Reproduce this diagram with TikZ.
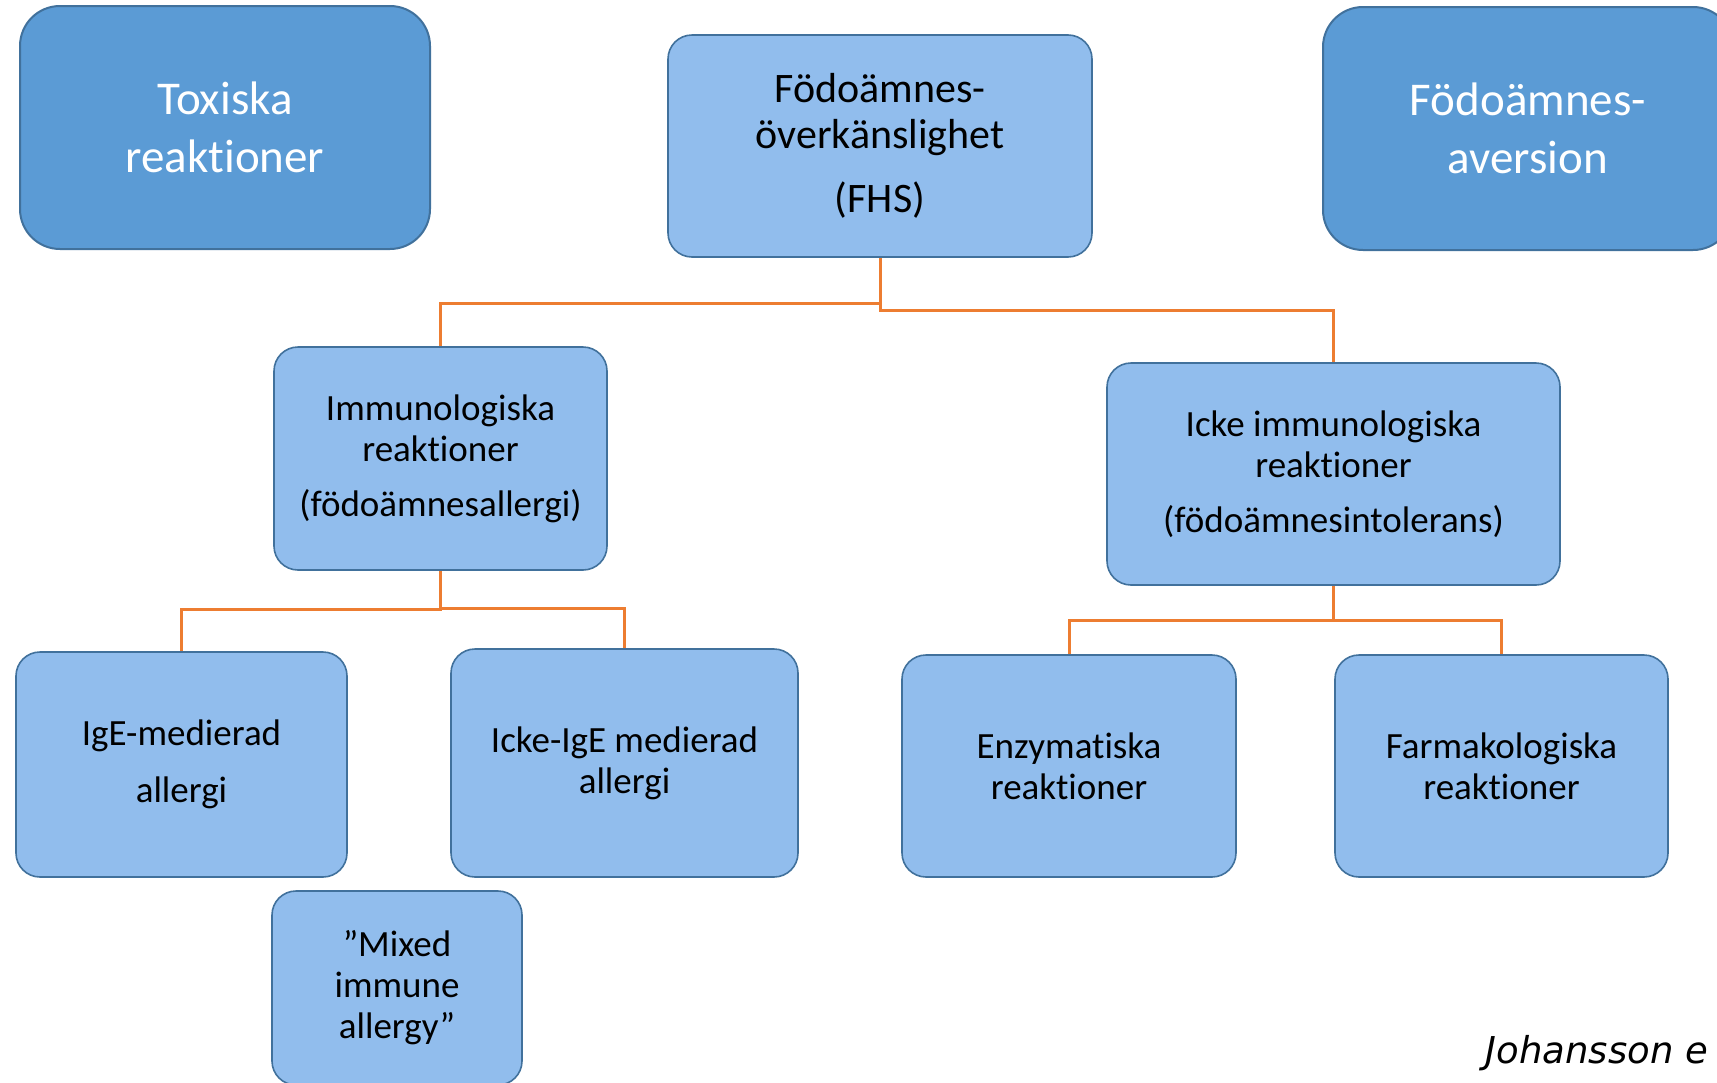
\documentclass[tikz,border=0pt]{standalone}
\usepackage{fontspec}
\setmainfont{Carlito}[Ligatures=NoCommon]
\newfontfamily\citefont{DejaVu Sans}
\usepackage{tikz}

\definecolor{boxdark}{RGB}{91,155,213}
\definecolor{boxlight}{RGB}{145,189,237}
\definecolor{boxline}{RGB}{65,113,156}
\definecolor{linkorange}{RGB}{237,125,49}

\tikzset{
	darkbox/.style={shape=rectangle, rounded corners=20pt, draw=boxline, line width=1pt, fill=boxdark, text=white, align=center, font=\fontsize{23.5}{29}\selectfont},
	lightbox/.style={shape=rectangle, rounded corners=12pt, draw=boxline, line width=0.8pt, fill=boxlight, text=black, align=center, font=\fontsize{18.5}{20.5}\selectfont},
	link/.style={-, draw=linkorange, line width=1.5pt},
}

\begin{document}
\begin{tikzpicture}[x=0.5pt, y=-0.5pt]
	
	\clip (0, 0) rectangle (1717, 1082);
	
	% top row
	\node[darkbox, minimum width=205pt, minimum height=121.5pt] (tox) at (225, 127.5) {Toxiska\\reaktioner};
	\node[lightbox, minimum width=212pt, minimum height=111pt, font=\fontsize{21}{23}\selectfont] (fhs) at (880, 146) {Födoämnes-\\överkänslighet\\[9pt](FHS)};
	\node[darkbox, minimum width=205pt, minimum height=121.5pt] (aver) at (1528, 128.5) {Födoämnes-\\aversion};
	
	% second row
	\node[lightbox, minimum width=166.5pt, minimum height=111.5pt] (immuno) at (440.5, 458.5) {Immunologiska\\reaktioner\\[7pt](födoämnesallergi)};
	\node[lightbox, minimum width=226.5pt, minimum height=111pt] (ickeimmuno) at (1333.5, 474) {Icke immunologiska\\reaktioner\\[7pt](födoämnesintolerans)};
	
	% third row
	\node[lightbox, minimum width=165.5pt, minimum height=112.5pt] (ige) at (181.5, 764.5) {IgE-medierad\\[8pt]allergi};
	\node[lightbox, minimum width=173.5pt, minimum height=114pt] (ickeige) at (624.5, 763) {Icke-IgE medierad\\allergi};
	\node[lightbox, minimum width=167pt, minimum height=111pt] (enzym) at (1069, 766) {Enzymatiska\\reaktioner};
	\node[lightbox, minimum width=166.5pt, minimum height=111pt] (farma) at (1501.5, 766) {Farmakologiska\\reaktioner};
	
	% bottom
	\node[lightbox, minimum width=125pt, minimum height=97pt] (mixed) at (397, 988) {”Mixed\\immune\\allergy”};
	\node[anchor=base east, font=\citefont\itshape\fontsize{18.5}{22}\selectfont] (cite) at (1715, 1063) {Johansson e};
	
	% connectors
	\coordinate (fhsL) at (880, 303);
	\coordinate (fhsR) at (880, 310);
	\coordinate (immJ) at (440.5, 609);
	\coordinate (ickeJ) at (1333.5, 620);
	
	\draw[link] (fhs.south) -- (fhsL) -| (immuno.north);
	\draw[link] (fhs.south) -- (fhsR) -| (ickeimmuno.north);
	\draw[link] (immuno.south) -- (immJ) -| (ige.north);
	\draw[link] (immuno.south) -- ([yshift=0.5pt]immJ) -| (ickeige.north);
	\draw[link] (ickeimmuno.south) -- (ickeJ) -| (enzym.north);
	\draw[link] (ickeimmuno.south) -- (ickeJ) -| (farma.north);
	
\end{tikzpicture}
\end{document}
